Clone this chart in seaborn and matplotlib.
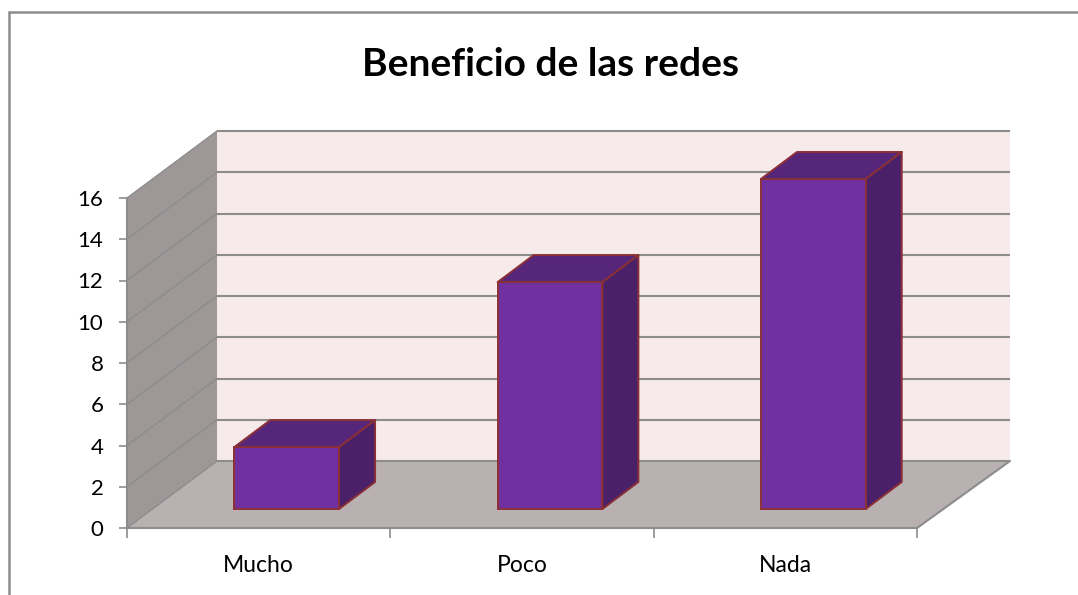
import matplotlib
matplotlib.use("Agg")

from matplotlib.lines import Line2D
import matplotlib.pyplot as plt
from matplotlib.patches import Polygon, Rectangle
import pandas as pd
import seaborn as sns


CATEGORIES = ["Mucho", "Poco", "Nada"]
VALUES = [3, 11, 16]
Y_TICKS = [0, 2, 4, 6, 8, 10, 12, 14, 16]

WIDTH_PX, HEIGHT_PX = 1078, 595
AX_LEFT, AX_RIGHT, AX_TOP, AX_BOTTOM = 127, 917, 198, 528

# 3D look, in data units: how far the back wall and the bars are pushed
X_UNIT = (AX_RIGHT - AX_LEFT) / 3
Y_UNIT = (AX_BOTTOM - AX_TOP) / 16
WALL_DX, WALL_DY = 90 / X_UNIT, 67 / Y_UNIT
WALL_DX_RIGHT = 93 / X_UNIT
BAR_SHIFT_X, BAR_SHIFT_Y = 28 / X_UNIT, 19 / Y_UNIT
BAR_DX, BAR_DY = 36 / X_UNIT, 27 / Y_UNIT

GRID = "#8c8c8c"
BAR_EDGE = "#8a3036"
FRONT = "#7030a0"
TOP = "#55267a"
SIDE = "#4a2068"


def add_face(ax, points, color, edge="none", lw=0.0, zorder=1):
    ax.add_patch(Polygon(points, closed=True, facecolor=color, edgecolor=edge,
                         linewidth=lw, zorder=zorder, clip_on=False, joinstyle="round"))


def draw_walls(ax):
    x0, x1 = -0.5, 2.5
    back_left, back_right = x0 + WALL_DX, x1 + WALL_DX_RIGHT
    top = Y_TICKS[-1]
    add_face(ax, [(back_left, WALL_DY), (back_right, WALL_DY),
                  (back_right, top + WALL_DY), (back_left, top + WALL_DY)], "#f6eaea")
    add_face(ax, [(x0, 0), (back_left, WALL_DY),
                  (back_left, top + WALL_DY), (x0, top)], "#9d9897")
    add_face(ax, [(x0, 0), (x1, 0), (back_right, WALL_DY), (back_left, WALL_DY)], "#b9b1b1")

    for tick in Y_TICKS:
        ax.plot([x0, back_left], [tick, tick + WALL_DY], color=GRID, lw=1.0,
                zorder=2, clip_on=False)
        ax.plot([back_left, back_right], [tick + WALL_DY, tick + WALL_DY], color=GRID,
                lw=1.5, zorder=2, clip_on=False, solid_capstyle="butt")
    ax.plot([x1, back_right], [0, WALL_DY], color=GRID, lw=1.5, zorder=2, clip_on=False)


def draw_bars(ax):
    df = pd.DataFrame({"categoria": CATEGORIES, "valor": VALUES})
    sns.barplot(data=df, x="categoria", y="valor", ax=ax, color=FRONT, saturation=1,
                width=0.398, edgecolor=BAR_EDGE, linewidth=1.4, zorder=5)

    for patch in ax.patches:
        if not isinstance(patch, Rectangle):
            continue
        patch.set_x(patch.get_x() + BAR_SHIFT_X)
        patch.set_y(BAR_SHIFT_Y)
        patch.set_clip_on(False)
        left = patch.get_x()
        right = left + patch.get_width()
        low = patch.get_y()
        high = low + patch.get_height()
        add_face(ax, [(left, high), (right, high), (right + BAR_DX, high + BAR_DY),
                      (left + BAR_DX, high + BAR_DY)], TOP, BAR_EDGE, 1.4, zorder=4)
        add_face(ax, [(right, low), (right + BAR_DX, low + BAR_DY),
                      (right + BAR_DX, high + BAR_DY), (right, high)], SIDE, BAR_EDGE, 1.4, zorder=4)


def main():
    sns.set_theme(style="white")
    plt.rcParams["font.family"] = ["Lato", "DejaVu Sans"]

    fig = plt.figure(figsize=(WIDTH_PX / 100, HEIGHT_PX / 100), dpi=100, facecolor="white")
    ax = fig.add_axes([AX_LEFT / WIDTH_PX, 1 - AX_BOTTOM / HEIGHT_PX,
                       (AX_RIGHT - AX_LEFT) / WIDTH_PX, (AX_BOTTOM - AX_TOP) / HEIGHT_PX])
    ax.patch.set_visible(False)

    draw_bars(ax)
    draw_walls(ax)

    ax.set_xlim(-0.5, 2.5)
    ax.set_ylim(0, 16)
    ax.set_xlabel("")
    ax.set_ylabel("")
    ax.set_yticks(Y_TICKS)
    ax.set_xticks([-0.5, 0.5, 1.5, 2.5], minor=True)
    ax.tick_params(axis="y", length=6, width=1.2, color=GRID, labelsize=16, labelcolor="black", left=True, pad=11)
    ax.tick_params(axis="x", which="major", length=0, labelsize=16.5, labelcolor="black", pad=19.5)
    ax.tick_params(axis="x", which="minor", length=7, width=1.2, color=GRID, bottom=True)

    for name in ["top", "right"]:
        ax.spines[name].set_visible(False)
    for name in ["left", "bottom"]:
        ax.spines[name].set_color(GRID)
        ax.spines[name].set_linewidth(1.5)
        ax.spines[name].set_zorder(3)

    fig.text(550 / WIDTH_PX, 1 - 65 / HEIGHT_PX, "Beneficio de las redes", ha="center", va="center",
             fontsize=28, fontweight="bold", color="black")

    # frame of the chart area only shows on the top and left, the crop cuts the rest
    edge_x, edge_y = 9 / WIDTH_PX, 1 - 12 / HEIGHT_PX
    fig.add_artist(Line2D([edge_x, edge_x], [0, edge_y], color="#8c8c8c", lw=1.8))
    fig.add_artist(Line2D([edge_x, 1], [edge_y, edge_y], color="#8c8c8c", lw=1.8))

    fig.savefig("out.png", dpi=100)
    plt.close(fig)


if __name__ == "__main__":
    main()
